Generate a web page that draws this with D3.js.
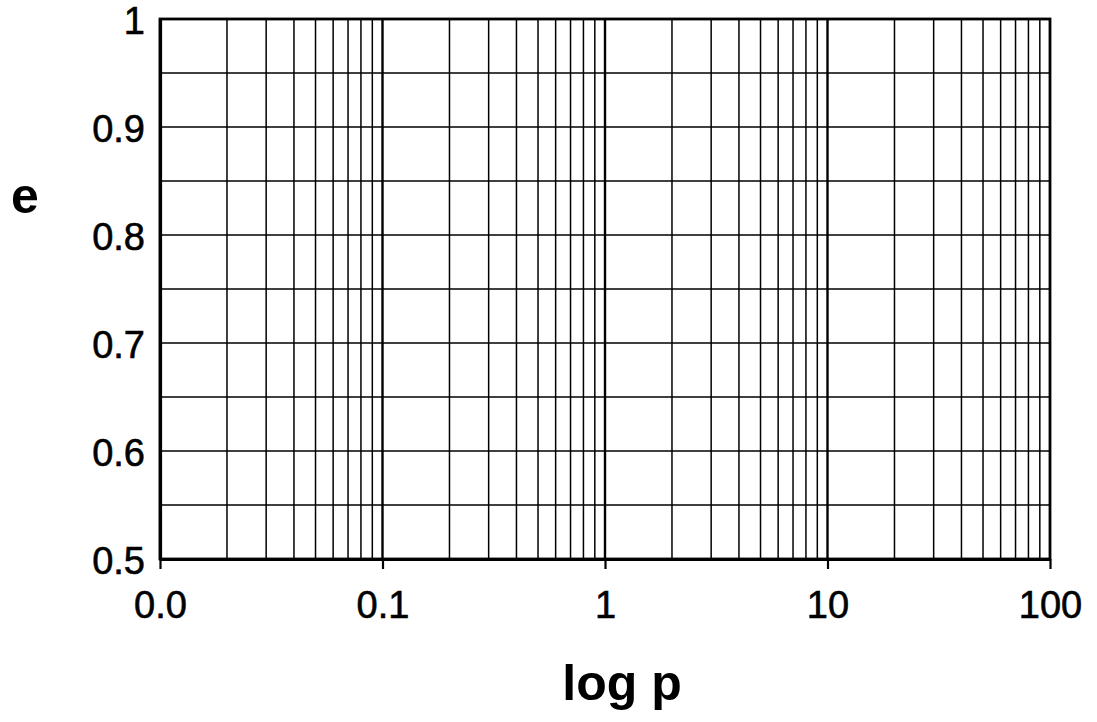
<!DOCTYPE html>
<html>
<head>
<meta charset="utf-8">
<script src="https://cdn.jsdelivr.net/npm/d3@7"></script>
<style>
  body { margin: 0; background: #fff; }
  text { font-family: "Liberation Sans", Arial, sans-serif; fill: #000; }
</style>
</head>
<body>
<svg id="chart" width="1097" height="722" viewBox="0 0 1097 722"></svg>
<script>
// axis ranges and tick labels
const xDomain = [0.01, 100];
const yDomain = [0.5, 1];
const xMajor = [0.01, 0.1, 1, 10, 100];
const xMajorLabels = ["0.0", "0.1", "1", "10", "100"];
const yMajor = [0.5, 0.6, 0.7, 0.8, 0.9, 1];
const yMajorLabels = ["0.5", "0.6", "0.7", "0.8", "0.9", "1"];
const yGrid = [0.55, 0.6, 0.65, 0.7, 0.75, 0.8, 0.85, 0.9, 0.95];
const xTitle = "log p";
const yTitle = "e";

const svg = d3.select("#chart");
const plotLeft = 160, plotRight = 1050, plotTop = 19, plotBottom = 559;

const x = d3.scaleLog().domain(xDomain).range([plotLeft, plotRight]);
const y = d3.scaleLinear().domain(yDomain).range([plotBottom, plotTop]);

// log grid positions: 1..9 in each decade
const xGrid = [];
xMajor.slice(0, -1).forEach((d, i) => {
    for (let k = 1; k <= 9; k++) xGrid.push({ v: d * k, major: k === 1 });
});

const grid = svg.append("g");

grid.selectAll(".vgrid")
    .data(xGrid.filter(d => d.v > xDomain[0] * 1.001))
    .enter()
    .append("line")
    .attr("x1", d => x(d.v))
    .attr("x2", d => x(d.v))
    .attr("y1", plotTop)
    .attr("y2", plotBottom)
    .style("stroke", "#000")
    .style("stroke-width", d => d.major ? 2.4 : 1.5);

grid.selectAll(".hgrid")
    .data(yGrid)
    .enter()
    .append("line")
    .attr("x1", plotLeft)
    .attr("x2", plotRight)
    .attr("y1", d => y(d))
    .attr("y2", d => y(d))
    .style("stroke", "#000")
    .style("stroke-width", 1.5);

// frame
svg.append("rect")
    .attr("x", plotLeft)
    .attr("y", plotTop)
    .attr("width", plotRight - plotLeft)
    .attr("height", plotBottom - plotTop)
    .style("fill", "none")
    .style("stroke", "#000")
    .style("stroke-width", 2.8);

// bottom axis
const xAxis = d3.axisBottom(x)
    .tickValues(xMajor)
    .tickFormat((d, i) => xMajorLabels[i])
    .tickSize(10)
    .tickSizeOuter(0)
    .tickPadding(20);

const gx = svg.append("g")
    .attr("transform", `translate(0,${plotBottom})`)
    .call(xAxis);
gx.select(".domain").style("stroke-width", 3.2);
gx.selectAll(".tick line").style("stroke-width", 2.2);
gx.selectAll(".tick text")
    .style("font-size", "38px")
    .style("stroke", "#000")
    .style("stroke-width", 0.6)
    .attr("dy", "0.71em")
    .attr("y", 32);

// left axis
const yAxis = d3.axisLeft(y)
    .tickValues(yMajor)
    .tickFormat((d, i) => yMajorLabels[i])
    .tickSize(0)
    .tickSizeOuter(0)
    .tickPadding(15);

const gy = svg.append("g")
    .attr("transform", `translate(${plotLeft},0)`)
    .call(yAxis);
gy.select(".domain").style("stroke-width", 3.2);
gy.selectAll(".tick text")
    .style("font-size", "38px")
    .style("stroke", "#000")
    .style("stroke-width", 0.6)
    .attr("y", 2);

// axis titles
svg.append("text")
    .attr("x", 25)
    .attr("y", 213)
    .attr("text-anchor", "middle")
    .style("font-size", "50px")
    .style("font-weight", "bold")
    .text(yTitle);

svg.append("text")
    .attr("x", (plotLeft + plotRight) / 2 + 17)
    .attr("y", 700)
    .attr("text-anchor", "middle")
    .style("font-size", "50px")
    .style("font-weight", "bold")
    .text(xTitle);
</script>
</body>
</html>
